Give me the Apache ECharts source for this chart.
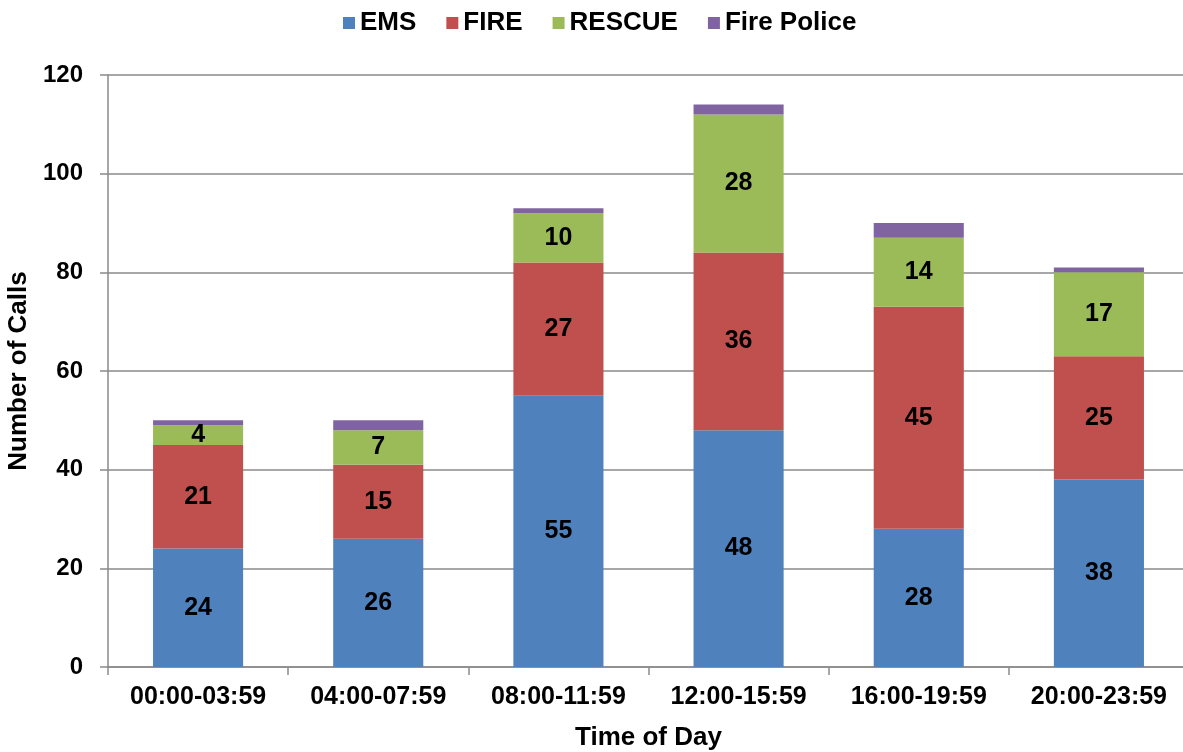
<!DOCTYPE html>
<html>
<head>
<meta charset="utf-8">
<script src="https://cdn.jsdelivr.net/npm/echarts@6/dist/echarts.min.js"></script>
<style>
html,body{margin:0;padding:0;background:#fff;}
#chart{width:1183px;height:752px;}
</style>
</head>
<body>
<div id="chart"></div>
<script>
const categories = ['00:00-03:59','04:00-07:59','08:00-11:59','12:00-15:59','16:00-19:59','20:00-23:59'];
const ems = [24, 26, 55, 48, 28, 38];
const fire = [21, 15, 27, 36, 45, 25];
const rescue = [4, 7, 10, 28, 14, 17];
const firePolice = [1, 2, 1, 2, 3, 1];
const yTicks = {min: 0, max: 120, interval: 20};

const FONT = '"Liberation Sans", Arial, sans-serif';
const labelStyle = {show: true, position: 'inside', color: '#000', fontWeight: 'bold', fontSize: 25, fontFamily: FONT};

const chart = echarts.init(document.getElementById('chart'));
chart.setOption({
  animation: false,
  backgroundColor: '#fff',
  textStyle: {fontFamily: FONT},
  legend: {
    left: 338, top: 5,
    icon: 'rect', itemWidth: 12, itemHeight: 12, itemGap: 30,
    textStyle: {fontSize: 26, fontWeight: 'bold', color: '#000', fontFamily: FONT},
    data: ['EMS','FIRE','RESCUE','Fire Police']
  },
  grid: {left: 108, top: 75, width: 1081, height: 592, outerBoundsMode: 'none', containLabel: false},
  xAxis: {
    type: 'category',
    data: categories,
    name: 'Time of Day',
    nameLocation: 'middle',
    nameGap: 58,
    nameTextStyle: {fontSize: 26, fontWeight: 'bold', color: '#000', fontFamily: FONT},
    axisLine: {lineStyle: {color: '#8a8a8a', width: 1.5}},
    axisTick: {show: true, length: 8, lineStyle: {color: '#8a8a8a', width: 1.5}},
    axisLabel: {fontSize: 25, fontWeight: 'bold', color: '#000', margin: 18, fontFamily: FONT}
  },
  yAxis: {
    type: 'value',
    min: yTicks.min, max: yTicks.max, interval: yTicks.interval,
    name: 'Number of Calls',
    nameLocation: 'middle',
    nameGap: 68,
    nameTextStyle: {fontSize: 26, fontWeight: 'bold', color: '#000', fontFamily: FONT},
    axisLine: {show: true, lineStyle: {color: '#8a8a8a', width: 1.5}},
    axisTick: {show: true, length: 8, lineStyle: {color: '#8a8a8a', width: 1.5}},
    axisLabel: {fontSize: 24, fontWeight: 'bold', color: '#000', margin: 25, fontFamily: FONT},
    splitLine: {lineStyle: {color: '#8a8a8a', width: 1.5}}
  },
  series: [
    {name: 'EMS', type: 'bar', stack: 'total', barWidth: '50%', data: ems, itemStyle: {color: '#4F81BD'}, label: labelStyle},
    {name: 'FIRE', type: 'bar', stack: 'total', data: fire, itemStyle: {color: '#C0504D'}, label: labelStyle},
    {name: 'RESCUE', type: 'bar', stack: 'total', data: rescue, itemStyle: {color: '#9BBB59'}, label: labelStyle},
    {name: 'Fire Police', type: 'bar', stack: 'total', data: firePolice, itemStyle: {color: '#8064A2'}}
  ]
});
</script>
</body>
</html>
